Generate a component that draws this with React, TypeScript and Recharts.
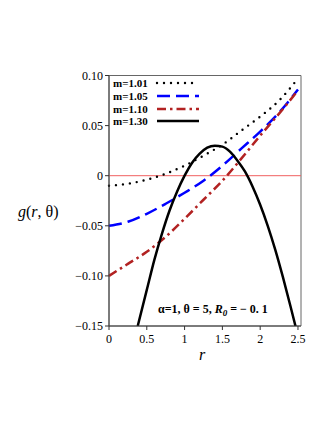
import React from 'react';
import { LineChart, Line, XAxis, YAxis, ReferenceLine, ReferenceArea } from 'recharts';

// r values shared by the m=1.01, 1.05, 1.10 curves
const rGrid = [0, 0.25, 0.5, 0.75, 1, 1.25, 1.5, 1.75, 2, 2.25, 2.5];
const g101 = [-0.01, -0.008, -0.004, 0.002, 0.01, 0.02, 0.031, 0.045, 0.059, 0.075, 0.097];
const g105 = [-0.05, -0.046, -0.038, -0.028, -0.017, -0.005, 0.01, 0.027, 0.044, 0.063, 0.086];
const g110 = [-0.1, -0.088, -0.076, -0.061, -0.043, -0.024, -0.005, 0.017, 0.04, 0.062, 0.085];

// m=1.30 curve
const rBlack = [0.38, 0.5, 0.6, 0.7, 0.8, 0.9, 1.0, 1.1, 1.2, 1.3, 1.4, 1.5, 1.6, 1.7, 1.8, 1.9, 2.0, 2.1, 2.2, 2.3, 2.4, 2.48];
const g130 = [-0.15, -0.114, -0.084, -0.058, -0.035, -0.016, 0.0, 0.013, 0.022, 0.028, 0.03, 0.029, 0.024, 0.015, 0.004, -0.011, -0.029, -0.05, -0.074, -0.101, -0.13, -0.154];

const xTicks = [0, 0.5, 1, 1.5, 2, 2.5];
const xMinor = [0, 0.1, 0.2, 0.3, 0.4, 0.5, 0.6, 0.7, 0.8, 0.9, 1, 1.1, 1.2, 1.3, 1.4, 1.5, 1.6, 1.7, 1.8, 1.9, 2, 2.1, 2.2, 2.3, 2.4, 2.5];
const yTicks = [-0.15, -0.1, -0.05, 0, 0.05, 0.1];
const yMinor = [-0.15, -0.1375, -0.125, -0.1125, -0.1, -0.0875, -0.075, -0.0625, -0.05, -0.0375, -0.025, -0.0125, 0, 0.0125, 0.025, 0.0375, 0.05, 0.0625, 0.075, 0.0875, 0.1];

const labels = ['m=1.01', 'm=1.05', 'm=1.10', 'm=1.30'];

const toPts = (rs: number[], gs: number[]) => rs.map((r, i) => ({ r, g: gs[i] }));

const styles = [
  { stroke: '#000000', dash: '0 7', cap: 'round' as const, width: 2.4 },
  { stroke: '#0000ff', dash: '13 6', cap: 'butt' as const, width: 2.5 },
  { stroke: '#b22222', dash: '9 4 2.5 4', cap: 'butt' as const, width: 2.5 },
  { stroke: '#000000', dash: undefined, cap: 'butt' as const, width: 2.5 },
];

const serif = '"Liberation Serif", "DejaVu Serif", serif';
const tickStyle = { fontFamily: serif, fontSize: 12, fill: '#000' };

const fmtY = (v: number) => {
  if (v === 0) return '0';
  const s = Math.abs(v).toFixed(2);
  return v < 0 ? '\u2212' + s : s;
};

const App: React.FC = () => {
  const series = [toPts(rGrid, g101), toPts(rGrid, g105), toPts(rGrid, g110), toPts(rBlack, g130)];

  return (
    <div style={{ position: 'relative', width: 316, height: 370 }}>
      <LineChart width={316} height={370} margin={{ top: 67.5, right: 23, left: 0, bottom: 12 }}>
        <XAxis xAxisId="minor" type="number" dataKey="r" domain={[0, 2.54]} ticks={xMinor}
          tick={false} tickSize={2} axisLine={false} height={0} tickLine={{ stroke: '#333' }} />
        <XAxis type="number" dataKey="r" domain={[0, 2.54]} ticks={xTicks} height={40}
          tickSize={4} tickMargin={4} tick={tickStyle} axisLine={{ stroke: '#444' }} tickLine={{ stroke: '#333' }} />
        <YAxis yAxisId="minor" type="number" domain={[-0.15, 0.1]} ticks={yMinor}
          tick={false} tickSize={2} axisLine={false} width={0} tickLine={{ stroke: '#333' }} />
        <YAxis type="number" domain={[-0.15, 0.1]} ticks={yTicks} width={101} allowDataOverflow
          tickFormatter={fmtY} tickSize={4} tickMargin={2} tick={tickStyle}
          axisLine={{ stroke: '#444' }} tickLine={{ stroke: '#333' }} />
        <ReferenceArea x1={0} x2={2.54} y1={-0.15} y2={0.1} fill="none" stroke="#666" strokeWidth={1} />
        <ReferenceLine y={0} stroke="#f06060" strokeWidth={1} />
        {series.map((d, i) => (
          <Line key={labels[i]} data={d} dataKey="g" type="monotone" dot={false}
            stroke={styles[i].stroke} strokeWidth={styles[i].width}
            strokeDasharray={styles[i].dash} strokeLinecap={styles[i].cap}
            isAnimationActive={false} />
        ))}
      </LineChart>

      {/* legend */}
      <div style={{ position: 'absolute', left: 105, top: 69, fontFamily: serif, fontWeight: 'bold', fontSize: 11 }}>
        {labels.map((l, i) => (
          <div key={l} style={{ display: 'flex', alignItems: 'center', height: 12.7 }}>
            <span style={{ width: 42 }}>{l}</span>
            <svg width={46} height={6}>
              <line x1={2} y1={3} x2={44} y2={3} stroke={styles[i].stroke} strokeWidth={styles[i].width}
                strokeDasharray={styles[i].dash} strokeLinecap={styles[i].cap} />
            </svg>
          </div>
        ))}
      </div>

      {/* parameter note */}
      <div style={{ position: 'absolute', left: 150, top: 294, fontFamily: serif, fontWeight: 'bold', fontSize: 12, whiteSpace: 'nowrap' }}>
        {'\u03b1=1, \u03b8 = 5, '}<i>R</i><sub style={{ fontSize: 9 }}><i>0</i></sub>{' = \u2212 0. 1'}
      </div>

      {/* axis titles */}
      <div style={{ position: 'absolute', left: 10, top: 195, fontFamily: serif, fontSize: 16, whiteSpace: 'nowrap' }}>
        <i>g</i>(<i>r</i>, {'\u03b8'})
      </div>
      <div style={{ position: 'absolute', left: 191, top: 338, fontFamily: serif, fontSize: 16 }}>
        <i>r</i>
      </div>
    </div>
  );
};

export default App;
